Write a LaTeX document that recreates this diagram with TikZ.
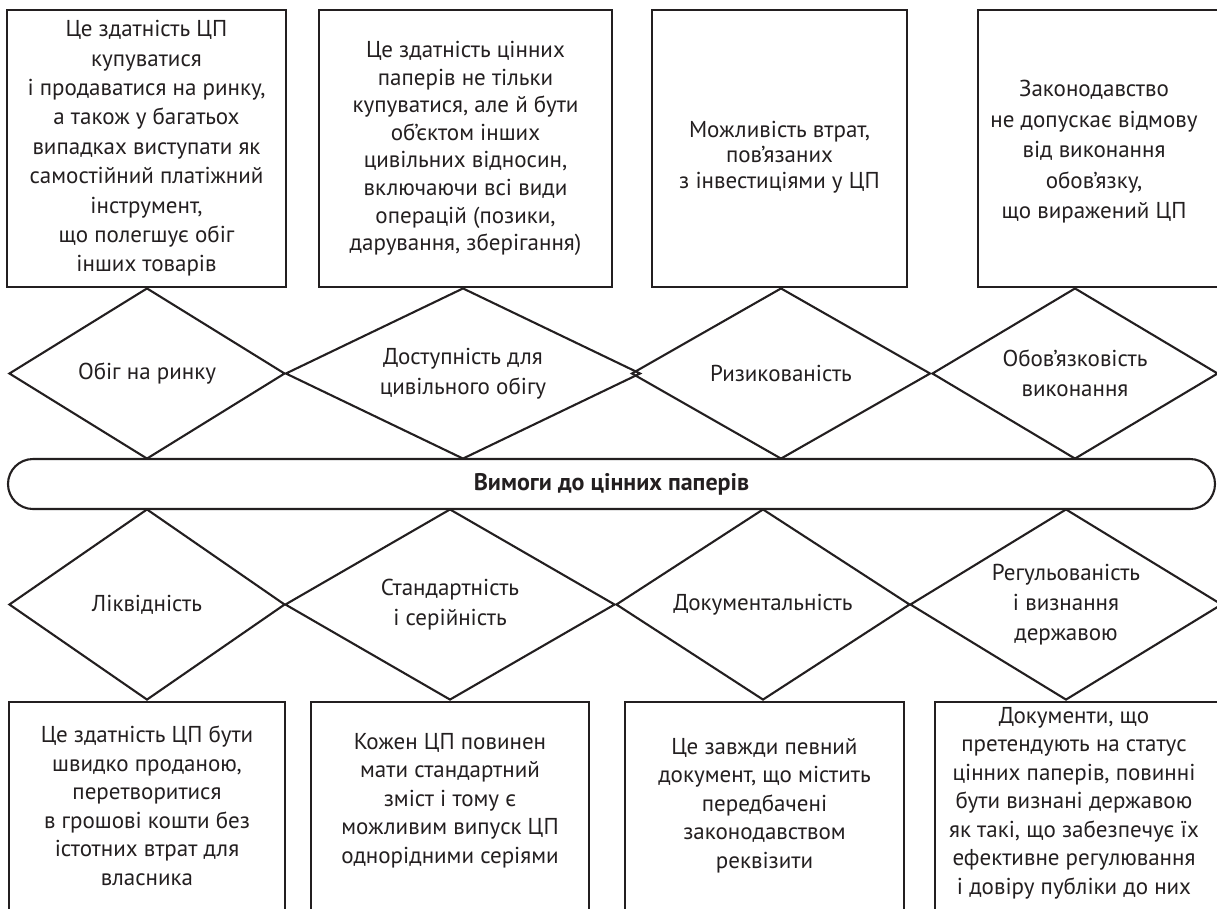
\documentclass[tikz,border=0pt]{standalone}
\usepackage{fontspec}
\setmainfont{PT Sans}
\usetikzlibrary{shapes.geometric}
\definecolor{ink}{RGB}{35,31,32}
\begin{document}
\begin{tikzpicture}[x=1pt,y=-1pt,
  every node/.style={text=ink},
  txt/.style={font=\fontsize{23}{#1}\selectfont, align=center, inner sep=0pt},
  txt/.default=28.5,
  box/.style={draw=ink, line width=2.1pt, rectangle, inner sep=0pt, align=center},
  dia/.style={draw=ink, line width=2.1pt, diamond, aspect=1.6, inner sep=0pt, align=center,
              font=\fontsize{23}{30}\selectfont},
  band/.style={draw=ink, line width=2.1pt, rectangle, rounded corners=25pt, inner sep=0pt,
               font=\fontsize{24}{26}\selectfont\bfseries}]
\useasboundingbox (0,0) rectangle (1217,908);
\clip (0,0) rectangle (1217,908);

% top boxes
\node[box, txt=29.4, minimum width=279pt, minimum height=277pt] (t1) at (146.5,148.5)
  {Це здатність ЦП\\купуватися\\і продаватися на ринку,\\а також у багатьох\\випадках виступати як\\самостійний платіжний\\інструмент,\\що полегшує обіг\\інших товарів};
\node[box, txt=27.6, minimum width=293pt, minimum height=277pt] (t2) at (465.5,148.5)
  {Це здатність цінних\\паперів не тільки\\купуватися, але й бути\\об’єктом інших\\цивільних відносин,\\включаючи всі види\\операцій (позики,\\дарування, зберігання)};
\node[box, minimum width=255pt, minimum height=277pt] (t3) at (779.5,148.5) {};
\node[txt=25.5] (t3t) at (779.5,157) {Можливість втрат,\\пов’язаних\\з інвестиціями у ЦП};
\node[box, minimum width=262pt, minimum height=277pt] (t4) at (1109,148.5) {};
\node[txt=30.5] (t4t) at (1094,152) {Законодавство\\не допускає відмову\\від виконання\\обов’язку,\\що виражений ЦП};

% upper diamonds
\node[dia, minimum width=276pt, minimum height=171pt] (d1) at (147,373.5) {Обіг на ринку};
\node[dia, minimum width=355pt, minimum height=171pt] (d2) at (463,373.5) {Доступність для\\цивільного обігу};
\node[dia, minimum width=299pt, minimum height=171pt] (d3) at (781,373.5) {Ризикованість};
\node[dia, minimum width=286pt, minimum height=171pt] (d4) at (1075,373.5) {Обов’язковість\\виконання};

% central band
\node[band, minimum width=1207pt, minimum height=50pt] (band) at (611.5,484) {Вимоги до цінних паперів};

% lower diamonds
\node[dia, minimum width=276pt, minimum height=191pt] (l1) at (147,604.5) {Ліквідність};
\node[dia, minimum width=330pt, minimum height=191pt] (l2) at (450,604.5) {Стандартність\\і серійність};
\node[dia, minimum width=294pt, minimum height=191pt] (l3) at (763,604.5) {Документальність};
\node[dia, minimum width=312pt, minimum height=191pt] (l4) at (1066,604.5) {Регульованість\\і визнання\\державою};

% bottom boxes
\node[box, minimum width=276pt, minimum height=210pt] (b1) at (147,807) {};
\node[txt] (b1t) at (147,806) {Це здатність ЦП бути\\швидко проданою,\\перетворитися\\в грошові кошти без\\істотних втрат для\\власника};
\node[box, minimum width=278pt, minimum height=210pt] (b2) at (450,807) {};
\node[txt] (b2t) at (450,800.5) {Кожен ЦП повинен\\мати стандартний\\зміст і тому є\\можливим випуск ЦП\\однорідними серіями};
\node[box, minimum width=279pt, minimum height=210pt] (b3) at (764.5,807) {};
\node[txt] (b3t) at (764.5,805.5) {Це завжди певний\\документ, що містить\\передбачені\\законодавством\\реквізити};
\node[box, minimum width=305pt, minimum height=210pt] (b4) at (1087.5,807) {};
\node[txt] (b4t) at (1074,803) {Документи, що\\претендують на статус\\цінних паперів, повинні\\бути визнані державою\\як такі, що забезпечує їх\\ефективне регулювання\\і довіру публіки до них};
\end{tikzpicture}
\end{document}
